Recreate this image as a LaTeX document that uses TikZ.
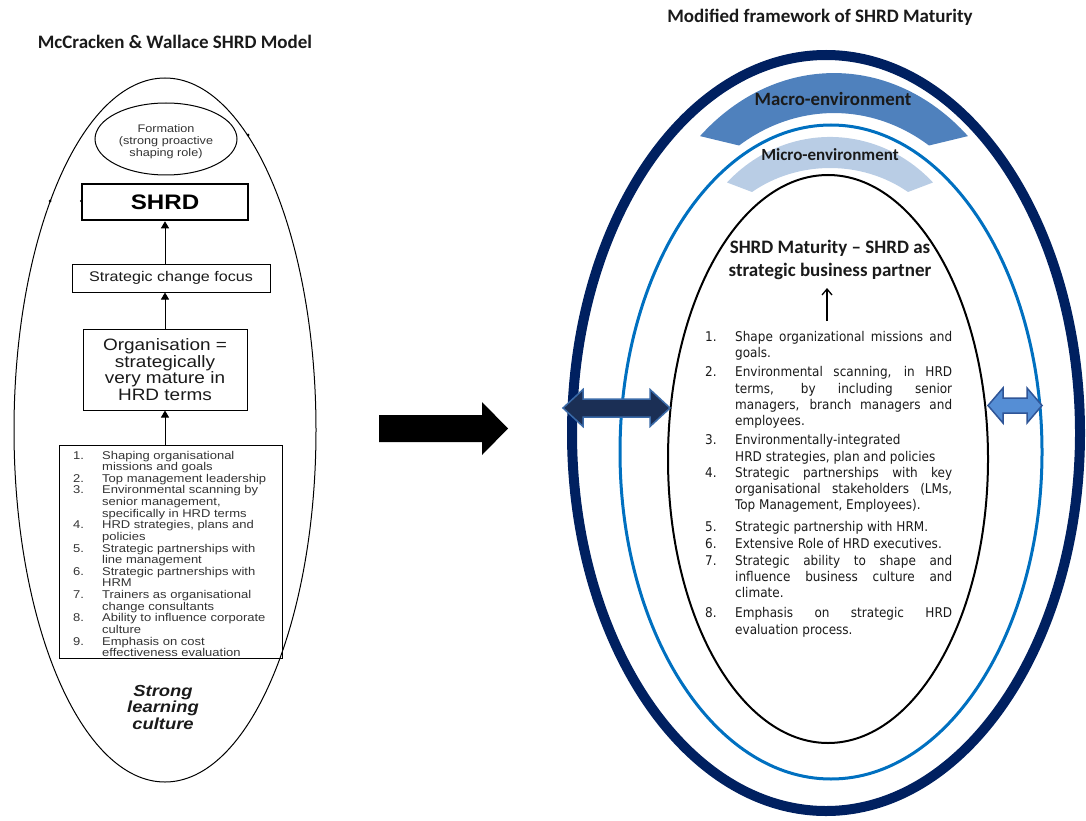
\documentclass[tikz,border=0pt]{standalone}
\usepackage{fontspec}
\usetikzlibrary{arrows.meta,shapes.geometric}
\setmainfont{Liberation Sans}
\newfontfamily\calibri{Carlito}
\newfontfamily\arialw[FakeStretch=1.15]{Liberation Sans}
\newfontfamily\tahoma{DejaVu Sans Condensed}
\definecolor{navy}{HTML}{002060}
\definecolor{ringblue}{HTML}{0070C0}
\definecolor{macrofill}{HTML}{4F81BD}
\definecolor{microfill}{HTML}{B9CDE5}
\definecolor{darkarrow}{HTML}{1B2F55}
\definecolor{darkarrowedge}{HTML}{3A6AA8}
\definecolor{lightarrow}{HTML}{558ED5}
\definecolor{lightarrowedge}{HTML}{2F5597}
\definecolor{ink}{HTML}{1A1A1A}
\definecolor{softink}{HTML}{333333}

% rows of the practice list (left model)
\newcommand\numrow[2]{\makebox[29pt][l]{#1}#2}
\newcommand\controw[1]{\hspace*{29pt}#1}
% items of the maturity list (right model): number, text, space after
\newcommand\shrditem[3]{\hangindent=30pt\hangafter=1\noindent\makebox[30pt][l]{#1}#2\par\vspace{#3}}

\begin{document}
\begin{tikzpicture}[x=1pt,y=-1pt,
  box/.style={draw=black, line width=1pt, inner sep=0pt, align=center, text=ink},
  upconn/.style={line width=1pt, -{Triangle[length=7pt,width=8pt]}},
  heading/.style={font=\calibri\bfseries\fontsize{19}{22}\selectfont, text=ink},
  twoheads/.style={line width=1.5pt, line join=miter}]
\useasboundingbox (0,0) rectangle (1086,821);

% ---------------- left: McCracken & Wallace model ----------------
\node[heading, anchor=base] (ltitle) at (175,49) {McCracken \& Wallace SHRD Model};

\node[draw, ellipse, line width=1pt, minimum width=302, minimum height=704, inner sep=0pt] (leftoval) at (165,430) {};
\fill (248,135) circle (1.5);
\fill (50,201) circle (1.5);
\fill (81,201) circle (1.2);

\node[draw, ellipse, line width=1pt, minimum width=142, minimum height=72, inner sep=0pt] (formation) at (166,139) {};
\node[align=center, text=softink, font=\arialw\fontsize{11}{12}\selectfont] (formationtext) at (166,142)
      {Formation\\(strong proactive\\shaping role)};

\node[draw, line width=2.5pt, minimum width=166, minimum height=36, inner sep=0pt,
      font=\arialw\bfseries\fontsize{21}{24}\selectfont] (shrd) at (165,202) {SHRD};

\node[box, minimum width=198, minimum height=28, font=\arialw\fontsize{14}{16}\selectfont] (focus) at (171,278) {Strategic change focus};

\node[box, minimum width=164, minimum height=81, font=\arialw\fontsize{16.5}{16.7}\selectfont] (org) at (165,369.5)
  {Organisation =\\strategically\\very mature in\\HRD terms};

\node[box, minimum width=223, minimum height=213] (practices) at (170.5,551.5) {};
\node[anchor=base west, inner sep=0pt, text=softink, font=\arialw\fontsize{11.3}{11.5}\selectfont] (practicetext) at (73,459)
  {\begin{tabular}[t]{@{}l@{}}
   \numrow{1.}{Shaping organisational}\\
   \controw{missions and goals}\\
   \numrow{2.}{Top management leadership}\\
   \numrow{3.}{Environmental scanning by}\\
   \controw{senior management,}\\
   \controw{specifically in HRD terms}\\
   \numrow{4.}{HRD strategies, plans and}\\
   \controw{policies}\\
   \numrow{5.}{Strategic partnerships with}\\
   \controw{line management}\\
   \numrow{6.}{Strategic partnerships with}\\
   \controw{HRM}\\
   \numrow{7.}{Trainers as organisational}\\
   \controw{change consultants}\\
   \numrow{8.}{Ability to influence corporate}\\
   \controw{culture}\\
   \numrow{9.}{Emphasis on cost}\\
   \controw{effectiveness evaluation}
   \end{tabular}};

\draw[upconn] (org.south |- practices.north) -- (org.south);
\draw[upconn] (org.north) -- (org.north |- focus.south);
\draw[upconn] (shrd.south |- focus.north) -- (shrd.south);

\node[align=center, text=ink, font=\arialw\bfseries\itshape\fontsize{16}{16.5}\selectfont] (culture) at (163,707)
  {Strong\\learning\\culture};

% ---------------- transition arrow ----------------
\fill (379,415) -- (482,415) -- (482,402) -- (508,428.5) -- (482,455) -- (482,442) -- (379,442) -- cycle;

% ---------------- right: modified framework ----------------
\node[heading, anchor=base] (rtitle) at (820,23) {Modified framework of SHRD Maturity};

% environment bands
\fill[macrofill] (700,136.1) arc[start angle=-132.5, end angle=-47.5, x radius=198.3, y radius=240]
   -- (929,145.5) arc[start angle=-56.9, end angle=-123.1, x radius=173.9, y radius=200] -- cycle;
\fill[microfill] (727,182.5) arc[start angle=-135.7, end angle=-44.3, x radius=143.9, y radius=151]
   -- (908,192) arc[start angle=-53.13, end angle=-126.87, x radius=130, y radius=120] -- cycle;

% rings
\node[draw=navy, ellipse, line width=10pt, minimum width=508, minimum height=756, inner sep=0pt] (macroring) at (826,433) {};
\node[draw=ringblue, ellipse, line width=3pt, minimum width=422, minimum height=654, inner sep=0pt] (microring) at (831,452) {};
\node[draw=black, ellipse, line width=2pt, minimum width=320, minimum height=568, inner sep=0pt] (corering) at (828,459) {};

\node[heading, font=\calibri\bfseries\fontsize{18.8}{22}\selectfont] (macro) at (833,99) {Macro-environment};
\node[heading, font=\calibri\bfseries\fontsize{17}{20}\selectfont] (micro) at (830,155) {Micro-environment};

\node[heading, align=center, anchor=base, font=\calibri\bfseries\fontsize{19}{23}\selectfont] (maturity) at (830,276.5)
  {SHRD Maturity – SHRD as\\strategic business partner};

\coordinate (mtail) at (827,321);
\coordinate (mhead) at (827,288);
\draw[line width=1.3pt, -{Straight Barb[length=6pt,width=10pt]}] (mtail) -- (mhead);

\node[anchor=base west, inner sep=0pt, text width=247pt, align=justify, text=ink,
      font=\tahoma\fontsize{13.4}{16.3}\selectfont] (maturitylist) at (705,341.5)
  {\tolerance=10000\hbadness=10000
   \shrditem{1.}{Shape organizational missions and\linebreak goals.}{2.7pt}
   \shrditem{2.}{Environmental scanning, in HRD\linebreak terms, by including senior\linebreak managers, branch managers and\linebreak employees.}{2.7pt}
   \shrditem{3.}{Environmentally-integrated\newline HRD strategies, plan and policies}{0pt}
   \shrditem{4.}{Strategic partnerships with key\linebreak organisational stakeholders (LMs,\linebreak Top Management, Employees).}{5.7pt}
   \shrditem{5.}{Strategic partnership with HRM.}{0pt}
   \shrditem{6.}{Extensive Role of HRD executives.}{0.7pt}
   \shrditem{7.}{Strategic ability to shape and\linebreak influence business culture and\linebreak climate.}{3.7pt}
   \shrditem{8.}{Emphasis on strategic HRD\linebreak evaluation process.}{0pt}};

% two-headed links between the rings
\filldraw[twoheads, fill=darkarrow, draw=darkarrowedge]
  (563,408) -- (583,389.5) -- (583,399) -- (650,399) -- (650,389.5) -- (670,408)
  -- (650,426.5) -- (650,417) -- (583,417) -- (583,426.5) -- cycle;
\filldraw[twoheads, fill=lightarrow, draw=lightarrowedge]
  (988,405.5) -- (1003,388) -- (1003,398) -- (1027,398) -- (1027,388) -- (1042,405.5)
  -- (1027,423) -- (1027,413) -- (1003,413) -- (1003,423) -- cycle;
\end{tikzpicture}
\end{document}
